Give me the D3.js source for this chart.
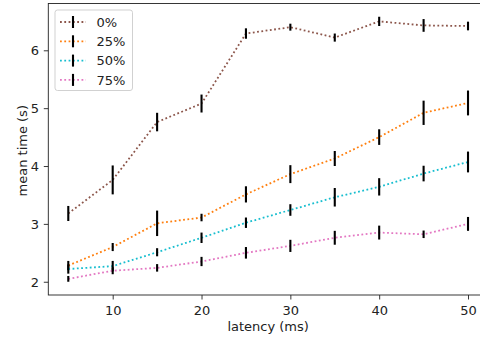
<!DOCTYPE html>
<html>
<head>
<meta charset="utf-8">
<script src="https://cdn.jsdelivr.net/npm/d3@7"></script>
<style>
  body { margin: 0; background: #fff; }
  svg { display: block; font-family: "DejaVu Sans", sans-serif; }
</style>
</head>
<body>
<svg id="chart" width="480" height="338"></svg>
<script>
const latency = [5, 10, 15, 20, 25, 30, 35, 40, 45, 50];
const seriesNames = ["0%", "25%", "50%", "75%"];
const mean0 = [3.18, 3.76, 4.76, 5.08, 6.29, 6.40, 6.22, 6.50, 6.43, 6.42];
const err0 = [0.13, 0.25, 0.16, 0.155, 0.09, 0.06, 0.07, 0.08, 0.11, 0.075];
const mean25 = [2.28, 2.60, 3.01, 3.11, 3.51, 3.86, 4.13, 4.50, 4.92, 5.09];
const err25 = [0.08, 0.07, 0.22, 0.065, 0.14, 0.155, 0.13, 0.135, 0.21, 0.215];
const mean50 = [2.22, 2.27, 2.51, 2.76, 3.02, 3.24, 3.46, 3.64, 3.87, 4.07];
const err50 = [0.08, 0.09, 0.07, 0.09, 0.09, 0.10, 0.16, 0.15, 0.135, 0.18];
const mean75 = [2.05, 2.19, 2.24, 2.35, 2.50, 2.62, 2.76, 2.85, 2.82, 3.00];
const err75 = [0.05, 0.06, 0.065, 0.08, 0.10, 0.105, 0.12, 0.12, 0.065, 0.12];
const xTicks = [10, 20, 30, 40, 50];
const yTicks = [2, 3, 4, 5, 6];
const colors = ["#8c564b", "#ff7f0e", "#17becf", "#e377c2"];

const means = [mean0, mean25, mean50, mean75];
const errs = [err0, err25, err50, err75];

const mLeft = 48.3, mRight = 488, mTop = 3.5, mBottom = 295;
const fontPx = "13px";
const svg = d3.select("#chart");

const x = d3.scaleLinear().domain([2.75, 52.25]).range([mLeft, mRight]);
const y = d3.scaleLinear().domain([1.771, 6.809]).range([mBottom, mTop]);

// axes
const xAxis = svg.append("g")
  .attr("transform", "translate(0," + mBottom + ")")
  .call(d3.axisBottom(x).tickValues(xTicks).tickSize(4.5).tickPadding(5).tickFormat(d3.format("d")));
const yAxis = svg.append("g")
  .attr("transform", "translate(" + mLeft + ",0)")
  .call(d3.axisLeft(y).tickValues(yTicks).tickSize(4.5).tickPadding(4.8).tickFormat(d3.format("d")));
[xAxis, yAxis].forEach(g => {
  g.select(".domain").remove();
  g.selectAll("line").attr("stroke", "#222").attr("stroke-width", 0.9);
  g.selectAll("text").attr("fill", "#222").style("font-size", fontPx).style("font-family", "DejaVu Sans");
});
xAxis.selectAll("text").attr("y", 19.5).attr("dy", null);
yAxis.selectAll("text").attr("dy", "0.36em");

// series
means.forEach((m, i) => {
  const pts = latency.map((l, j) => ({x: l, y: m[j], e: errs[i][j]}));
  svg.append("path")
    .datum(pts)
    .attr("fill", "none")
    .attr("stroke", colors[i])
    .attr("stroke-width", 1.8)
    .attr("stroke-dasharray", "1.8,2.5")
    .attr("d", d3.line().x(d => x(d.x)).y(d => y(d.y)));
  svg.append("g").selectAll("line")
    .data(pts)
    .enter()
    .append("line")
    .attr("x1", d => x(d.x))
    .attr("x2", d => x(d.x))
    .attr("y1", d => y(d.y - d.e))
    .attr("y2", d => y(d.y + d.e))
    .attr("stroke", "#000")
    .attr("stroke-width", 2.1);
});

// frame
svg.append("rect")
  .attr("x", mLeft).attr("y", mTop)
  .attr("width", mRight - mLeft).attr("height", mBottom - mTop)
  .attr("fill", "none").attr("stroke", "#222").attr("stroke-width", 0.9);

// legend
const lg = svg.append("g").attr("transform", "translate(55,10)");
lg.append("rect")
  .attr("width", 77.5).attr("height", 80.5).attr("rx", 2.5)
  .attr("fill", "#fff").attr("fill-opacity", 0.8)
  .attr("stroke", "#ccc").attr("stroke-width", 0.9);
seriesNames.forEach((name, i) => {
  const yy = 12 + i * 19.3;
  lg.append("line")
    .attr("x1", 5).attr("x2", 31).attr("y1", yy).attr("y2", yy)
    .attr("stroke", colors[i]).attr("stroke-width", 1.8)
    .attr("stroke-dasharray", "1.8,2.5");
  lg.append("line")
    .attr("x1", 18).attr("x2", 18).attr("y1", yy - 6).attr("y2", yy + 6)
    .attr("stroke", "#000").attr("stroke-width", 2.1);
  lg.append("text")
    .attr("x", 41.5).attr("y", yy).attr("dy", "0.37em")
    .style("font-size", fontPx).attr("fill", "#222")
    .text(name);
});

// labels
svg.append("text")
  .attr("x", (mLeft + mRight) / 2).attr("y", 330.5)
  .attr("text-anchor", "middle").style("font-size", fontPx).attr("fill", "#222")
  .text("latency (ms)");
svg.append("text")
  .attr("transform", "translate(26.5," + ((mTop + mBottom) / 2 + 1.5) + ") rotate(-90)")
  .attr("text-anchor", "middle").style("font-size", fontPx).attr("fill", "#222")
  .text("mean time (s)");
</script>
</body>
</html>
